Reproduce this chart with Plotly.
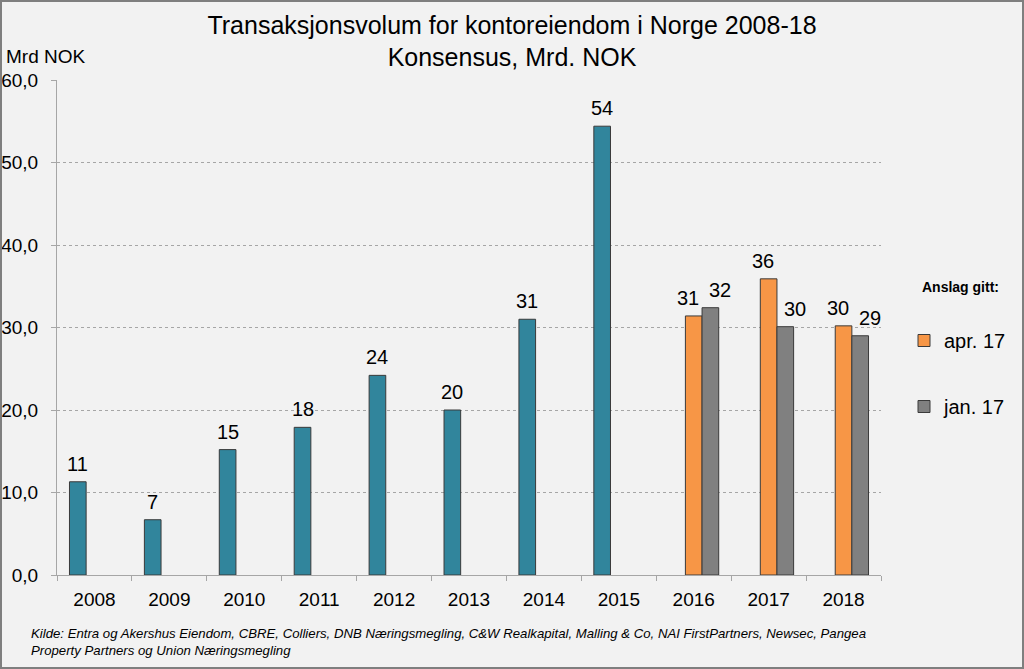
import plotly.graph_objects as go

years = ["2008", "2009", "2010", "2011", "2012", "2013", "2014", "2015", "2016", "2017", "2018"]
historikk = [11.3, 6.7, 15.2, 17.9, 24.2, 20.0, 31.0, 54.4, None, None, None]
apr17 = [None, None, None, None, None, None, None, None, 31.4, 35.9, 30.2]
jan17 = [None, None, None, None, None, None, None, None, 32.4, 30.1, 29.0]
yticks = [0, 10, 20, 30, 40, 50, 60]

W, H = 1024, 669
ML, MR, MT, MB = 57, 143, 80, 94
PW, PH = W - ML - MR, H - MT - MB
BARGAP = 0.333

def px_x(p):
    return (p - ML) / PW

def px_y(p):
    return (H - MB - p) / PH

FONT = "Liberation Sans, Arial, sans-serif"
outline = dict(color="#3a3a3a", width=1)
slot_w = PW / len(years) * (1 - BARGAP) / 3

def bar(y, name, color, **kw):
    return go.Bar(x=years, y=y, name=name,
                  marker=dict(color=color, line=outline), **kw)

fig = go.Figure()
fig.add_trace(bar(historikk, "Historikk", "#31859C", showlegend=False))
fig.add_trace(bar(apr17, "apr. 17", "#F79646", legendgroup="a"))
fig.add_trace(bar(jan17, "jan. 17", "#808080", legendgroup="b"))

# data labels above bars (slot offset + small nudge as in the original)
labels = []
for series, slot, nudge in ((historikk, -1, 0), (apr17, 0, -6), (jan17, 1, 10)):
    for idx, v in enumerate(series):
        if v is None:
            continue
        labels.append(dict(x=idx, y=v, xref="x", yref="y", text=f"{v:.0f}",
                           showarrow=False, xanchor="center", yanchor="middle",
                           xshift=slot * slot_w + nudge, yshift=18,
                           font=dict(size=20, color="#000000")))

fig.update_layout(
    width=W, height=H,
    margin=dict(l=ML, r=MR, t=MT, b=MB, autoexpand=False),
    paper_bgcolor="#F2F2F2", plot_bgcolor="#F2F2F2",
    font=dict(family=FONT, color="#000000"),
    separators=",.",
    barmode="group", bargap=BARGAP, bargroupgap=0,
    title=dict(text="Transaksjonsvolum for kontoreiendom i Norge 2008-18<br>Konsensus, Mrd. NOK",
               x=0.5, xanchor="center", y=0.9495, yanchor="top",
               font=dict(size=25, family=FONT, color="#000000")),
    xaxis=dict(type="category", categoryorder="array", categoryarray=years,
               range=[-0.5, len(years) - 0.5],
               tickson="boundaries", ticks="outside", ticklen=5,
               tickcolor="#a6a6a6", showline=True, linecolor="#a6a6a6", linewidth=1,
               tickfont=dict(size=19), showgrid=False, ticklabelstandoff=7, automargin=False),
    yaxis=dict(range=[0, 60], tickvals=yticks, tickformat=".1f", ticks="outside", ticklen=5,
               tickcolor="#a6a6a6", showline=True, linecolor="#a6a6a6", linewidth=1,
               showgrid=True, gridcolor="#a6a6a6", griddash="dot", gridwidth=1,
               tickfont=dict(size=19), zeroline=False, ticklabelstandoff=9, automargin=False),
    legend=dict(x=px_x(904), y=px_y(321), xanchor="left", yanchor="top",
                font=dict(size=20), tracegroupgap=37, bgcolor="rgba(0,0,0,0)",
                itemclick=False),
    annotations=labels + [
        dict(text="Mrd NOK", xref="paper", yref="paper", x=px_x(4), y=px_y(57),
             xanchor="left", yanchor="middle", showarrow=False, font=dict(size=19)),
        dict(text="<b>Anslag gitt:</b>", xref="paper", yref="paper", x=px_x(960), y=px_y(287),
             xanchor="center", yanchor="middle", showarrow=False, font=dict(size=14)),
        dict(text="<i>Kilde: Entra og Akershus Eiendom, CBRE, Colliers, DNB Næringsmegling, C&W Realkapital, Malling & Co, NAI FirstPartners, Newsec, Pangea<br>Property Partners og Union Næringsmegling</i>",
             xref="paper", yref="paper", x=px_x(29), y=px_y(624), xanchor="left", yanchor="top",
             align="left", showarrow=False, font=dict(size=13.2)),
    ],
    shapes=[dict(type="rect", xref="paper", yref="paper",
                 x0=px_x(1), x1=px_x(W - 1), y0=px_y(H - 1), y1=px_y(1),
                 line=dict(color="#7f7f7f", width=2), fillcolor="rgba(0,0,0,0)", layer="above")],
)

fig.write_html("out.html", config={"displayModeBar": False},
               post_script="document.body.style.margin='0';document.body.style.overflow='hidden';")
